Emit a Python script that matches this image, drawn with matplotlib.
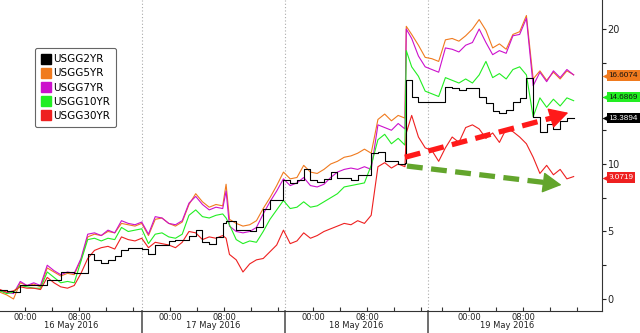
import numpy as np
import matplotlib.pyplot as plt
from matplotlib.lines import Line2D

# compressed session time in hours (Bloomberg intraday axis, gaps removed)
hours = [0, 1, 2, 3, 4, 5, 6, 7, 8, 9, 10, 11, 12, 13, 14, 15, 16, 17, 18, 19,
         20, 21, 22, 23, 24, 25, 26, 27, 28, 29, 30, 31, 32, 33, 33.5, 34, 35, 36, 37, 38,
         39, 40, 41, 42, 43, 44, 45, 46, 47, 48, 49, 50, 51, 52, 53, 54, 55, 56, 57, 58,
         59, 60, 60.2, 61, 62, 63, 64, 65, 66, 67, 68, 69, 70, 71, 72, 73, 74, 75, 76, 77,
         78, 79, 80, 81, 82, 83, 84, 85]

usgg2 = [0.7, 0.6, 0.5, 1.0, 1.0, 1.0, 1.0, 1.4, 1.4, 2.0, 2.0, 1.9, 1.9, 3.3, 2.9, 2.7, 2.9, 3.2, 3.6, 3.8,
         3.8, 3.7, 3.3, 4.0, 4.0, 4.3, 4.4, 4.4, 4.7, 5.1, 4.2, 4.1, 4.6, 5.6, 5.8, 5.8, 5.1, 5.1, 5.0, 5.3,
         6.7, 7.3, 7.3, 8.8, 8.6, 8.8, 9.6, 8.8, 8.7, 8.9, 9.4, 9.0, 9.0, 8.8, 9.2, 9.2, 10.8, 10.9, 10.2, 10.2,
         10.0, 10.1, 16.2, 15.0, 14.6, 14.6, 14.6, 14.6, 15.7, 15.6, 15.5, 15.6, 15.6, 15.0, 14.5, 13.9, 13.8, 14.0, 14.6, 14.9,
         16.4, 13.5, 12.4, 13.0, 12.6, 13.2, 13.4, 13.39]
usgg5 = [0.5, 0.3, 0.0, 1.2, 1.0, 1.1, 0.9, 2.3, 2.0, 1.7, 1.9, 1.8, 2.9, 4.6, 4.8, 4.7, 5.0, 4.9, 5.6, 5.5,
         5.4, 5.6, 4.7, 5.9, 6.0, 5.6, 5.4, 5.7, 7.0, 7.8, 7.2, 6.8, 7.0, 6.9, 8.5, 5.9, 5.6, 5.4, 5.5, 5.8,
         6.7, 7.5, 8.4, 9.4, 8.9, 9.0, 9.9, 9.4, 9.3, 9.6, 10.0, 10.2, 10.5, 10.6, 10.8, 11.1, 10.8, 13.3, 13.7, 13.2,
         13.6, 13.4, 20.2, 19.6, 18.8, 17.9, 17.8, 17.6, 19.2, 19.3, 19.1, 19.5, 20.0, 20.7, 19.9, 18.6, 18.9, 18.5, 19.6, 19.8,
         21.0, 16.3, 16.9, 16.2, 16.8, 16.3, 16.9, 16.61]
usgg7 = [0.6, 0.5, 0.4, 1.3, 1.0, 1.2, 1.0, 2.5, 2.1, 1.8, 2.0, 1.9, 3.0, 4.8, 4.9, 4.7, 5.1, 4.9, 5.8, 5.6,
         5.5, 5.7, 4.8, 6.1, 6.0, 5.6, 5.5, 5.8, 7.1, 7.6, 7.0, 6.6, 6.8, 6.7, 8.0, 5.4, 5.0, 4.9, 5.0, 5.3,
         6.3, 7.2, 8.0, 8.9, 8.4, 8.6, 9.0, 8.4, 8.3, 8.5, 9.0, 9.4, 9.6, 9.7, 9.6, 9.8, 9.6, 12.9, 12.7, 12.5,
         13.0, 12.6, 20.0, 19.3, 18.0, 17.2, 17.0, 16.8, 18.6, 18.5, 18.3, 18.8, 19.0, 20.0, 19.0, 18.1, 18.4, 18.2, 19.5, 19.6,
         20.8, 15.8, 16.8, 16.1, 16.9, 16.4, 17.0, 16.6]
usgg10 = [0.6, 0.4, 0.5, 1.0, 0.9, 0.8, 0.8, 2.0, 1.6, 1.2, 1.3, 1.2, 2.8, 4.4, 4.5, 4.3, 4.5, 4.4, 5.3, 5.0,
          5.1, 5.2, 4.1, 4.8, 4.9, 4.6, 4.5, 4.8, 6.2, 6.6, 6.1, 6.0, 6.2, 6.3, 6.0, 5.5, 4.4, 4.1, 4.3, 4.2,
          5.0, 5.9, 6.6, 7.3, 6.7, 6.8, 7.2, 6.8, 6.9, 7.2, 7.5, 7.8, 8.3, 8.4, 8.5, 8.6, 9.9, 11.8, 12.2, 11.5,
          11.9, 11.4, 18.4, 17.2, 16.5, 15.4, 15.2, 15.0, 16.4, 16.2, 16.0, 16.3, 16.0, 16.6, 17.6, 16.4, 16.7, 16.3, 17.0, 17.2,
          16.6, 13.5, 14.9, 14.2, 14.8, 14.3, 14.9, 14.69]
usgg30 = [0.7, 0.5, 0.6, 0.9, 0.8, 0.8, 0.7, 1.6, 1.2, 0.9, 0.8, 1.0, 1.9, 3.0, 3.6, 3.8, 3.9, 3.7, 4.6, 4.4,
          4.3, 4.5, 3.8, 4.2, 4.1, 4.0, 3.8, 4.2, 5.0, 4.9, 4.4, 4.6, 4.5, 4.7, 4.5, 3.3, 2.9, 2.0, 2.6, 2.9,
          3.0, 3.5, 4.0, 5.1, 4.1, 4.3, 4.9, 4.5, 4.7, 5.0, 5.2, 5.4, 5.6, 5.5, 5.8, 5.6, 6.2, 9.8, 10.1, 9.7,
          10.0, 9.8, 12.3, 13.6, 12.0, 11.2, 11.0, 10.2, 11.2, 12.0, 11.6, 12.7, 12.9, 12.6, 11.9, 12.3, 11.6, 12.6, 12.4, 12.0,
          11.5, 10.5, 9.3, 9.9, 9.2, 9.6, 8.9, 9.07]

names = ["USGG2YR", "USGG5YR", "USGG7YR", "USGG10YR", "USGG30YR"]
colors = ["#000000", "#f07a1e", "#cc10cc", "#22ee22", "#ee2020"]
last_labels = ["13.3894", "16.6074", None, "14.6869", "9.0719"]

day_bounds = [21.0, 42.2, 63.4]
tick_hours = [3.7, 7.7, 11.7, 15.7, 19.7, 25.2, 29.2, 33.2, 37.2, 41.2,
              46.4, 50.4, 54.4, 58.4, 62.4, 65.5, 69.5, 73.5, 77.5, 81.5, 85.5]
time_labels = [(3.7, "00:00"), (11.7, "08:00"), (25.2, "00:00"), (33.2, "08:00"),
               (46.4, "00:00"), (54.4, "08:00"), (69.5, "00:00"), (77.5, "08:00")]
date_labels = [(10.5, "16 May 2016"), (31.6, "17 May 2016"), (52.8, "18 May 2016"), (75.1, "19 May 2016")]

fig = plt.figure(figsize=(6.4, 3.33), dpi=100)
ax = fig.add_axes([0.0, 22 / 333, 602 / 640, 311 / 333])
ax.set_xlim(0, 89.2)
ax.set_ylim(-0.89, 22.15)

series = [usgg2, usgg5, usgg7, usgg10, usgg30]
for idx in [1, 2, 3, 4, 0]:
    ds = "steps-post" if idx == 0 else "default"
    ax.plot(hours, series[idx], color=colors[idx], lw=0.8, drawstyle=ds, zorder=3 if idx == 0 else 2)

for b in day_bounds:
    ax.axvline(b, color="#aaaaaa", lw=0.8, linestyle=(0, (1, 2)), zorder=1)
    ax.plot([b, b], [0, -0.075], transform=ax.get_xaxis_transform(), color="#555555",
            lw=1.2, clip_on=False)

# trend arrows
ax.plot([60.0, 82.4], [10.5, 13.5], color="#ff1a1a", lw=3.8, dashes=(3, 1.6), zorder=5,
        solid_capstyle="butt")
ax.annotate("", xy=(84.2, 13.8), xytext=(81.6, 13.4),
            arrowprops=dict(arrowstyle="-|>,head_length=1.0,head_width=0.55", color="#ff1a1a",
                            lw=1, mutation_scale=12, shrinkA=0, shrinkB=0), zorder=5)
ax.plot([60.3, 81.2], [9.85, 8.6], color="#63a52c", lw=3.8, dashes=(3, 1.6), zorder=5,
        solid_capstyle="butt")
ax.annotate("", xy=(83.2, 8.45), xytext=(80.6, 8.62),
            arrowprops=dict(arrowstyle="-|>,head_length=1.0,head_width=0.55", color="#63a52c",
                            lw=1, mutation_scale=12, shrinkA=0, shrinkB=0), zorder=5)

# spines and ticks
for s in ["top", "left"]:
    ax.spines[s].set_visible(False)
ax.spines["right"].set_color("#333333")
ax.spines["bottom"].set_color("#333333")
ax.yaxis.tick_right()
ax.set_yticks([0, 5, 10, 15, 20])
ax.set_yticks([2.5, 7.5, 12.5, 17.5], minor=True)
ax.tick_params(axis="y", which="both", direction="out", length=3, width=0.8, pad=1,
               labelsize=7, colors="#222222")
ax.set_xticks(tick_hours)
ax.set_xticklabels([])
ax.tick_params(axis="x", direction="in", length=3, width=0.8, colors="#333333")

xt = ax.get_xaxis_transform()
for h, t in time_labels:
    ax.text(h, -0.005, t, transform=xt, ha="center", va="top", fontsize=6, color="#222222")
for h, t in date_labels:
    ax.text(h, -0.033, t, transform=xt, ha="center", va="top", fontsize=6, color="#222222")

# last value tags
tag_pos = {0: 13.4, 1: 16.55, 3: 14.95, 4: 9.0}
text_cols = {0: "white", 1: "#111111", 3: "#111111", 4: "white"}
yt = ax.get_yaxis_transform()
for idx, yv in tag_pos.items():
    ax.text(1.011, yv, last_labels[idx], transform=yt, ha="left", va="center", fontsize=5.9,
            family="Liberation Sans", color=text_cols[idx], clip_on=False, zorder=6,
            bbox=dict(boxstyle="square,pad=0.2", fc=colors[idx], ec="none"))
    ax.plot([1.006], [yv], transform=yt, marker="<", ms=5.5, color=colors[idx],
            clip_on=False, mec="none", zorder=6)

handles = [Line2D([], [], marker="s", linestyle="none", markersize=6.5, color=c) for c in colors]
leg = ax.legend(handles, names, loc="upper left", bbox_to_anchor=(35 / 640, 1 - 48 / 333),
                bbox_transform=fig.transFigure, fontsize=7.5, handletextpad=0.1,
                labelspacing=0.4, borderpad=0.6, handlelength=1.0, fancybox=True,
                borderaxespad=0, framealpha=1, edgecolor="#666666")
leg.get_frame().set_linewidth(0.8)

fig.savefig("out.png", dpi=100)
